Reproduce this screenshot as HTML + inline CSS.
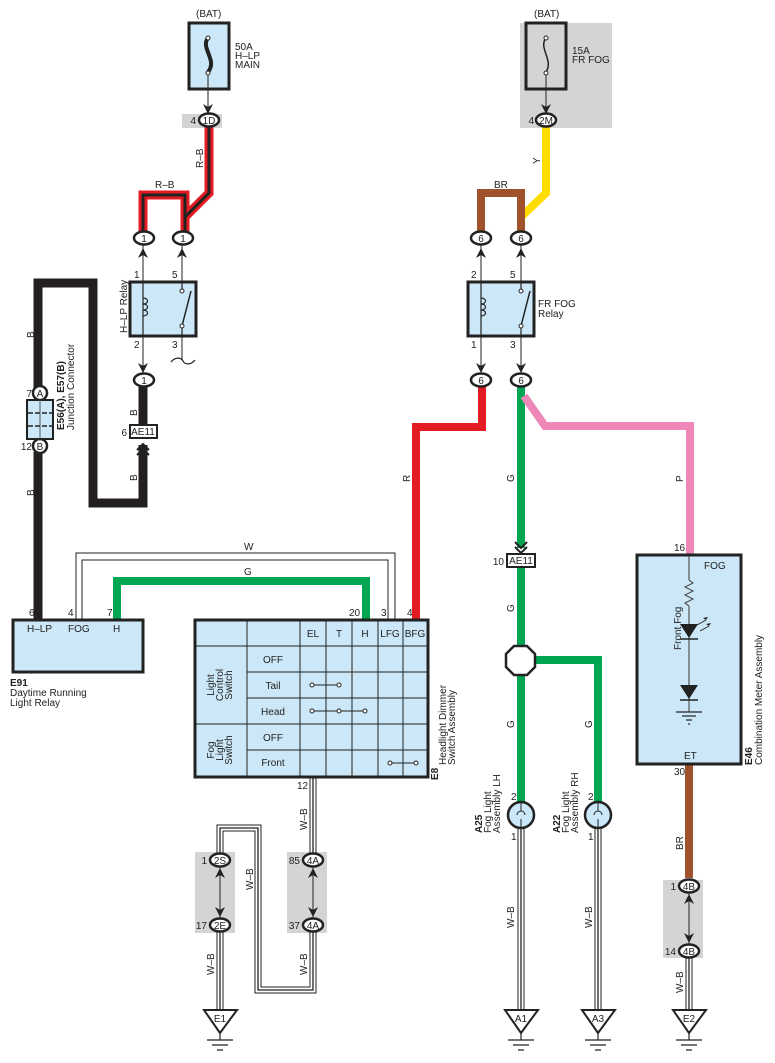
<!DOCTYPE html>
<html><head><meta charset="utf-8"><style>
html,body{margin:0;padding:0;background:#fff}
svg{display:block}
text{font-family:"Liberation Sans",sans-serif;font-size:10px;fill:#222}
</style></head><body>
<svg width="775" height="1063" viewBox="0 0 775 1063" xmlns="http://www.w3.org/2000/svg">
<defs>
<g id="up"><path d="M-5,6 L0,-4 L5,6 L0,3 Z" fill="#222"/></g>
<g id="dn"><path d="M-5,-6 L0,4 L5,-6 L0,-3 Z" fill="#222"/></g>
</defs>

<!-- gray backgrounds -->
<rect x="182" y="114" width="40" height="14" fill="#d4d4d6"/>
<rect x="520" y="23" width="92" height="105" fill="#d4d4d6"/>
<rect x="195" y="852" width="40" height="81" fill="#d4d4d6"/>
<rect x="287" y="852" width="40" height="81" fill="#d4d4d6"/>
<rect x="663" y="880" width="40" height="78" fill="#d4d4d6"/>

<!-- fuse 1 -->
<text x="196" y="17">(BAT)</text>
<rect x="189" y="23" width="40" height="66" fill="#cce8f8" stroke="#222" stroke-width="3"/>
<path d="M208,38 C200,48 218,60 208,72" stroke="#222" stroke-width="4" fill="none"/>
<circle cx="208" cy="38" r="2" fill="#fff" stroke="#222"/><circle cx="208" cy="73" r="2" fill="#fff" stroke="#222"/>
<line x1="208" y1="75" x2="208" y2="112" stroke="#222"/>
<use href="#dn" x="208" y="110"/>
<text x="235" y="50">50A</text><text x="235" y="59">H–LP</text><text x="235" y="68">MAIN</text>

<!-- fuse 2 -->
<text x="534" y="17">(BAT)</text>
<rect x="526" y="23" width="40" height="66" fill="none" stroke="#222" stroke-width="3"/>
<path d="M546,38 C538,48 554,60 546,72" stroke="#222" stroke-width="1.5" fill="none"/>
<circle cx="546" cy="38" r="2" fill="#fff" stroke="#222"/><circle cx="546" cy="73" r="2" fill="#fff" stroke="#222"/>
<line x1="546" y1="75" x2="546" y2="112" stroke="#222"/>
<use href="#dn" x="546" y="110"/>
<text x="572" y="54">15A</text><text x="572" y="63">FR FOG</text>

<!-- R-B wires -->
<g fill="none" stroke-linejoin="miter">
<path d="M209,127 V193 L185,217 V233 M185,233 V195 H143 V233" stroke="#e31b23" stroke-width="9"/>
<path d="M209,127 V193 L185,217 V233 M185,233 V195 H143 V233" stroke="#222" stroke-width="3"/>
<!-- Y / BR -->
<path d="M546,127 V193 L521,217" stroke="#ffdd00" stroke-width="8"/>
<path d="M521,233 V193 H481 V233" stroke="#a0522d" stroke-width="8"/>
<!-- B black -->
<path d="M143,387 V425 M143,445 V503 H93 V283 H38 V390 M38,452 V620" stroke="#231f20" stroke-width="9"/>
<!-- W double -->
<path d="M76,620 V553 H395 V620" stroke="#222" stroke-width="1"/>
<path d="M82,620 V560 H388 V620" stroke="#222" stroke-width="1"/>
<!-- G -->
<path d="M117,620 V581 H366 V620" stroke="#00a651" stroke-width="8"/>
<!-- R -->
<path d="M482,387 V427 H416 V620" stroke="#e31b23" stroke-width="8"/>
<!-- G right -->
<path d="M521,387 V548 M521,567 V803 M521,660 H598 V803" stroke="#00a651" stroke-width="8"/>
<!-- P -->
<path d="M524,396 L545,426 H690 V555" stroke="#ee88b8" stroke-width="8"/>
<!-- BR bottom -->
<path d="M689,764 V878" stroke="#a0522d" stroke-width="8"/>
</g>

<!-- W-B triple wires -->
<g fill="none">
<path d="M313,777 V855 M313,932 V990 H258 V828 H220 V855 M220,932 V1012 M521,828 V1012 M598,828 V1012 M689,958 V1012" stroke="#222" stroke-width="7"/>
<path d="M313,777 V855 M313,932 V990 H258 V828 H220 V855 M220,932 V1012 M521,828 V1012 M598,828 V1012 M689,958 V1012" stroke="#fff" stroke-width="5"/>
<path d="M313,777 V855 M313,932 V990 H258 V828 H220 V855 M220,932 V1012 M521,828 V1012 M598,828 V1012 M689,958 V1012" stroke="#222" stroke-width="1.3"/>
</g>

<!-- connectors -->
<g stroke="#222" stroke-width="2.5" fill="#fff">
<ellipse cx="209" cy="120" rx="10" ry="6.5"/>
<ellipse cx="546" cy="120" rx="10" ry="6.5"/>
<ellipse cx="144" cy="238" rx="10" ry="6.5"/><ellipse cx="183" cy="238" rx="10" ry="6.5"/>
<ellipse cx="144" cy="380" rx="10" ry="6.5"/>
<ellipse cx="481" cy="238" rx="10" ry="6.5"/><ellipse cx="521" cy="238" rx="10" ry="6.5"/>
<ellipse cx="481" cy="380" rx="10" ry="6.5"/><ellipse cx="521" cy="380" rx="10" ry="6.5"/>
<ellipse cx="220" cy="860" rx="10" ry="6.5"/><ellipse cx="220" cy="925" rx="10" ry="6.5"/>
<ellipse cx="313" cy="860" rx="10" ry="6.5"/><ellipse cx="313" cy="925" rx="10" ry="6.5"/>
<ellipse cx="689" cy="886" rx="10" ry="6.5"/><ellipse cx="689" cy="951" rx="10" ry="6.5"/>
<circle cx="40" cy="393" r="7"/><circle cx="40" cy="446" r="7"/>
</g>
<g font-size="9" text-anchor="middle">
<text x="209" y="124">1D</text><text x="546" y="124">2M</text>
<text x="144" y="242">1</text><text x="183" y="242">1</text><text x="144" y="384">1</text>
<text x="481" y="242">6</text><text x="521" y="242">6</text><text x="481" y="384">6</text><text x="521" y="384">6</text>
<text x="220" y="864">2S</text><text x="220" y="929">2E</text><text x="313" y="864">4A</text><text x="313" y="929">4A</text>
<text x="689" y="890">4B</text><text x="689" y="955">4B</text>
<text x="40" y="397">A</text><text x="40" y="450">B</text>
</g>
<g font-size="9" text-anchor="end">
<text x="196" y="124">4</text><text x="534" y="124">4</text>
<text x="207" y="864">1</text><text x="207" y="929">17</text><text x="300" y="864">85</text><text x="300" y="929">37</text>
<text x="676" y="890">1</text><text x="676" y="955">14</text>
<text x="32" y="397">7</text><text x="32" y="450">12</text>
<text x="127" y="436">6</text><text x="504" y="565">10</text>
</g>

<!-- relays -->
<g stroke="#222" fill="none">
<line x1="143" y1="245" x2="143" y2="372"/><line x1="182" y1="245" x2="182" y2="282"/><line x1="182" y1="336" x2="182" y2="360"/>
<line x1="481" y1="245" x2="481" y2="372"/><line x1="521" y1="245" x2="521" y2="372"/>
<line x1="220" y1="867" x2="220" y2="918"/><line x1="313" y1="867" x2="313" y2="918"/><line x1="689" y1="893" x2="689" y2="944"/>
</g>
<rect x="130" y="282" width="66" height="54" fill="#cce8f8" stroke="#222" stroke-width="3"/>
<rect x="468" y="282" width="66" height="54" fill="#cce8f8" stroke="#222" stroke-width="3"/>
<g stroke="#222" fill="none" stroke-width="1.2">
<line x1="143" y1="282" x2="143" y2="336"/>
<path d="M143,298 c6,0 6,6 0,6 c6,0 6,6 0,6 c6,0 6,6 0,6"/>
<line x1="182" y1="282" x2="182" y2="291"/><line x1="182" y1="326" x2="182" y2="336"/>
<line x1="182" y1="326" x2="191" y2="291" stroke-width="1.5"/>
<line x1="481" y1="282" x2="481" y2="336"/>
<path d="M481,298 c6,0 6,6 0,6 c6,0 6,6 0,6 c6,0 6,6 0,6"/>
<line x1="521" y1="282" x2="521" y2="291"/><line x1="521" y1="326" x2="521" y2="336"/>
<line x1="521" y1="326" x2="530" y2="291" stroke-width="1.5"/>
<path d="M171,362 c4,-5 10,-5 12,-1 c2,4 8,4 12,-1"/>
</g>
<g fill="#fff" stroke="#222">
<circle cx="182" cy="291" r="2"/><circle cx="182" cy="326" r="2"/><circle cx="521" cy="291" r="2"/><circle cx="521" cy="326" r="2"/>
</g>
<use href="#up" x="143" y="252"/><use href="#up" x="182" y="252"/><use href="#dn" x="143" y="369"/>
<use href="#up" x="481" y="252"/><use href="#up" x="521" y="252"/><use href="#dn" x="481" y="369"/><use href="#dn" x="521" y="369"/>
<use href="#up" x="220" y="872"/><use href="#dn" x="220" y="913"/><use href="#up" x="313" y="872"/><use href="#dn" x="313" y="913"/>
<use href="#up" x="689" y="898"/><use href="#dn" x="689" y="939"/>
<g font-size="9">
<text x="134" y="278">1</text><text x="172" y="278">5</text><text x="134" y="348">2</text><text x="172" y="348">3</text>
<text x="471" y="278">2</text><text x="510" y="278">5</text><text x="471" y="348">1</text><text x="510" y="348">3</text>
</g>
<text transform="translate(127,333) rotate(-90)">H–LP Relay</text>
<text x="538" y="307">FR FOG</text><text x="538" y="317">Relay</text>

<!-- AE11 boxes -->
<rect x="130" y="425" width="27" height="13" fill="#fff" stroke="#222" stroke-width="2"/>
<text x="143" y="435" text-anchor="middle" font-size="9">AE11</text>
<path d="M137,450 L143,444 L149,450 M137,455 L143,449 L149,455" stroke="#222" stroke-width="2" fill="none"/>
<rect x="507" y="554" width="28" height="13" fill="#fff" stroke="#222" stroke-width="2"/>
<text x="521" y="564" text-anchor="middle" font-size="9">AE11</text>
<path d="M515,542 L521,548 L527,542 M515,547 L521,553 L527,547" stroke="#222" stroke-width="2" fill="none"/>

<!-- junction connector -->
<rect x="27" y="400" width="26" height="39" fill="#cce8f8" stroke="#222" stroke-width="2"/>
<line x1="40" y1="400" x2="40" y2="439" stroke="#555"/>
<path d="M28,413 H52 M28,426 H52" stroke="#222" stroke-width="1.5" stroke-dasharray="5,2"/>
<text transform="translate(64,430) rotate(-90)" font-weight="bold" font-size="9.5">E56(A), E57(B)</text>
<text transform="translate(74,430) rotate(-90)" font-size="9.5">Junction Connector</text>

<!-- wire labels -->
<g font-size="9">
<text x="155" y="188">R–B</text><text transform="translate(203,168) rotate(-90)">R–B</text>
<text x="494" y="188">BR</text><text transform="translate(540,164) rotate(-90)">Y</text>
<text transform="translate(34,338) rotate(-90)">B</text><text transform="translate(34,496) rotate(-90)">B</text>
<text transform="translate(137,416) rotate(-90)">B</text><text transform="translate(137,481) rotate(-90)">B</text>
<text x="244" y="550">W</text><text x="244" y="575">G</text>
<text transform="translate(410,482) rotate(-90)">R</text>
<text transform="translate(514,482) rotate(-90)">G</text><text transform="translate(514,612) rotate(-90)">G</text>
<text transform="translate(592,728) rotate(-90)">G</text><text transform="translate(514,728) rotate(-90)">G</text>
<text transform="translate(683,482) rotate(-90)">P</text><text transform="translate(683,850) rotate(-90)">BR</text>
<text transform="translate(307,830) rotate(-90)">W–B</text><text transform="translate(253,890) rotate(-90)">W–B</text>
<text transform="translate(214,975) rotate(-90)">W–B</text><text transform="translate(307,975) rotate(-90)">W–B</text>
<text transform="translate(514,928) rotate(-90)">W–B</text><text transform="translate(592,928) rotate(-90)">W–B</text>
<text transform="translate(683,993) rotate(-90)">W–B</text>
</g>

<!-- E91 -->
<rect x="13" y="620" width="130" height="52" fill="#cce8f8" stroke="#222" stroke-width="3"/>
<g font-size="9"><text x="29" y="616">6</text><text x="68" y="616">4</text><text x="107" y="616">7</text></g>
<text x="27" y="632">H–LP</text><text x="68" y="632">FOG</text><text x="113" y="632">H</text>
<text x="10" y="686" font-weight="bold">E91</text>
<text x="10" y="696">Daytime Running</text><text x="10" y="706">Light Relay</text>

<!-- E8 switch table -->
<rect x="195" y="620" width="233" height="157" fill="#cce8f8" stroke="#222" stroke-width="3"/>
<g stroke="#222" stroke-width="1">
<line x1="247" y1="620" x2="247" y2="777"/><line x1="300" y1="620" x2="300" y2="777"/>
<line x1="326" y1="620" x2="326" y2="777"/><line x1="352" y1="620" x2="352" y2="777"/>
<line x1="378" y1="620" x2="378" y2="777"/><line x1="403" y1="620" x2="403" y2="777"/>
<line x1="195" y1="646" x2="428" y2="646"/><line x1="247" y1="672" x2="428" y2="672"/>
<line x1="247" y1="698" x2="428" y2="698"/><line x1="195" y1="724" x2="428" y2="724"/>
<line x1="247" y1="750" x2="428" y2="750"/>
<line x1="312" y1="685" x2="339" y2="685"/><line x1="312" y1="711" x2="365" y2="711"/><line x1="390" y1="763" x2="416" y2="763"/>
</g>
<g fill="#fff" stroke="#222"><circle cx="312" cy="685" r="2"/><circle cx="339" cy="685" r="2"/>
<circle cx="312" cy="711" r="2"/><circle cx="339" cy="711" r="2"/><circle cx="365" cy="711" r="2"/>
<circle cx="390" cy="763" r="2"/><circle cx="416" cy="763" r="2"/></g>
<g text-anchor="middle">
<text x="313" y="637">EL</text><text x="339" y="637">T</text><text x="365" y="637">H</text><text x="390" y="637">LFG</text><text x="415" y="637">BFG</text>
<text x="273" y="663">OFF</text><text x="273" y="689">Tail</text><text x="273" y="715">Head</text><text x="273" y="741">OFF</text><text x="273" y="766">Front</text>
</g>
<g font-size="9.5" text-anchor="middle">
<text transform="translate(214,685) rotate(-90)">Light</text><text transform="translate(223,685) rotate(-90)">Control</text><text transform="translate(232,685) rotate(-90)">Switch</text>
<text transform="translate(214,750) rotate(-90)">Fog</text><text transform="translate(223,750) rotate(-90)">Light</text><text transform="translate(232,750) rotate(-90)">Switch</text>
</g>
<g font-size="9"><text x="349" y="616">20</text><text x="381" y="616">3</text><text x="407" y="616">4</text><text x="297" y="789">12</text></g>
<text transform="translate(438,780) rotate(-90)" font-weight="bold" font-size="9.5">E8</text>
<text transform="translate(446,765) rotate(-90)" font-size="9.5">Headlight Dimmer</text>
<text transform="translate(455,765) rotate(-90)" font-size="9.5">Switch Assembly</text>

<!-- octagon splice -->
<polygon points="514,646 527,646 535,654 535,667 527,675 514,675 506,667 506,654" fill="#fff" stroke="#222" stroke-width="2.5"/>

<!-- lamps -->
<g stroke="#222" stroke-width="2.5" fill="#cce8f8"><circle cx="521" cy="815" r="13"/><circle cx="598" cy="815" r="13"/></g>
<g stroke="#222" fill="none" stroke-width="1"><path d="M521,802 V811 M521,819 V828 M517,815 a4,4 0 1 1 8,0"/><path d="M598,802 V811 M598,819 V828 M594,815 a4,4 0 1 1 8,0"/></g>
<g font-size="9"><text x="511" y="800">2</text><text x="588" y="800">2</text><text x="511" y="840">1</text><text x="588" y="840">1</text></g>
<g font-size="9.5">
<text transform="translate(482,833) rotate(-90)" font-weight="bold">A25</text>
<text transform="translate(491,833) rotate(-90)">Fog Light</text>
<text transform="translate(500,833) rotate(-90)">Assembly LH</text>
<text transform="translate(560,833) rotate(-90)" font-weight="bold">A22</text>
<text transform="translate(569,833) rotate(-90)">Fog Light</text>
<text transform="translate(578,833) rotate(-90)">Assembly RH</text>
</g>

<!-- E46 combination meter -->
<rect x="637" y="555" width="104" height="209" fill="#cce8f8" stroke="#222" stroke-width="3"/>
<g stroke="#555" fill="none" stroke-width="1.2">
<line x1="689" y1="556" x2="689" y2="580"/>
<path d="M689,580 l4,3 l-8,4 l8,4 l-8,4 l8,4 l-8,4 l4,3"/>
<line x1="689" y1="606" x2="689" y2="712"/>
</g>
<polygon points="680,624 698,624 689,638" fill="#222"/><line x1="680" y1="639" x2="698" y2="639" stroke="#222" stroke-width="1.5"/>
<path d="M697,625 l9,-5 M700,631 l9,-5" stroke="#222" stroke-width="1"/>
<polygon points="706,620 703,618 708,617" fill="#222"/><polygon points="709,626 706,624 711,623" fill="#222"/>
<polygon points="680,685 698,685 689,699" fill="#222"/><line x1="680" y1="700" x2="698" y2="700" stroke="#222" stroke-width="1.5"/>
<g stroke="#222" stroke-width="1.2"><line x1="676" y1="712" x2="702" y2="712"/><line x1="682" y1="716" x2="696" y2="716"/><line x1="686" y1="720" x2="692" y2="720"/><line x1="688" y1="724" x2="690" y2="724"/></g>
<text x="704" y="569">FOG</text><text x="684" y="759">ET</text>
<g font-size="9"><text x="674" y="551">16</text><text x="674" y="775">30</text></g>
<text transform="translate(681,650) rotate(-90)" font-size="9.5">Front Fog</text>
<text transform="translate(752,765) rotate(-90)" font-weight="bold" font-size="9.5">E46</text>
<text transform="translate(762,765) rotate(-90)" font-size="9.5">Combination Meter Assembly</text>

<!-- grounds -->
<g stroke="#222" stroke-width="2" fill="#fff">
<polygon points="204,1010 237,1010 220,1033"/><polygon points="505,1010 538,1010 521,1033"/>
<polygon points="582,1010 615,1010 598,1033"/><polygon points="673,1010 706,1010 689,1033"/>
</g>
<g text-anchor="middle" font-size="9.5"><text x="220" y="1022">E1</text><text x="521" y="1022">A1</text><text x="598" y="1022">A3</text><text x="689" y="1022">E2</text></g>
<g stroke="#222" stroke-width="1.2">
<path d="M220,1033 V1040 M207,1040 H233 M212,1045 H228 M217,1050 H223"/>
<path d="M521,1033 V1040 M508,1040 H534 M513,1045 H529 M518,1050 H524"/>
<path d="M598,1033 V1040 M585,1040 H611 M590,1045 H606 M595,1050 H601"/>
<path d="M689,1033 V1040 M676,1040 H702 M681,1045 H697 M686,1050 H692"/>
</g>
</svg>
</body></html>
